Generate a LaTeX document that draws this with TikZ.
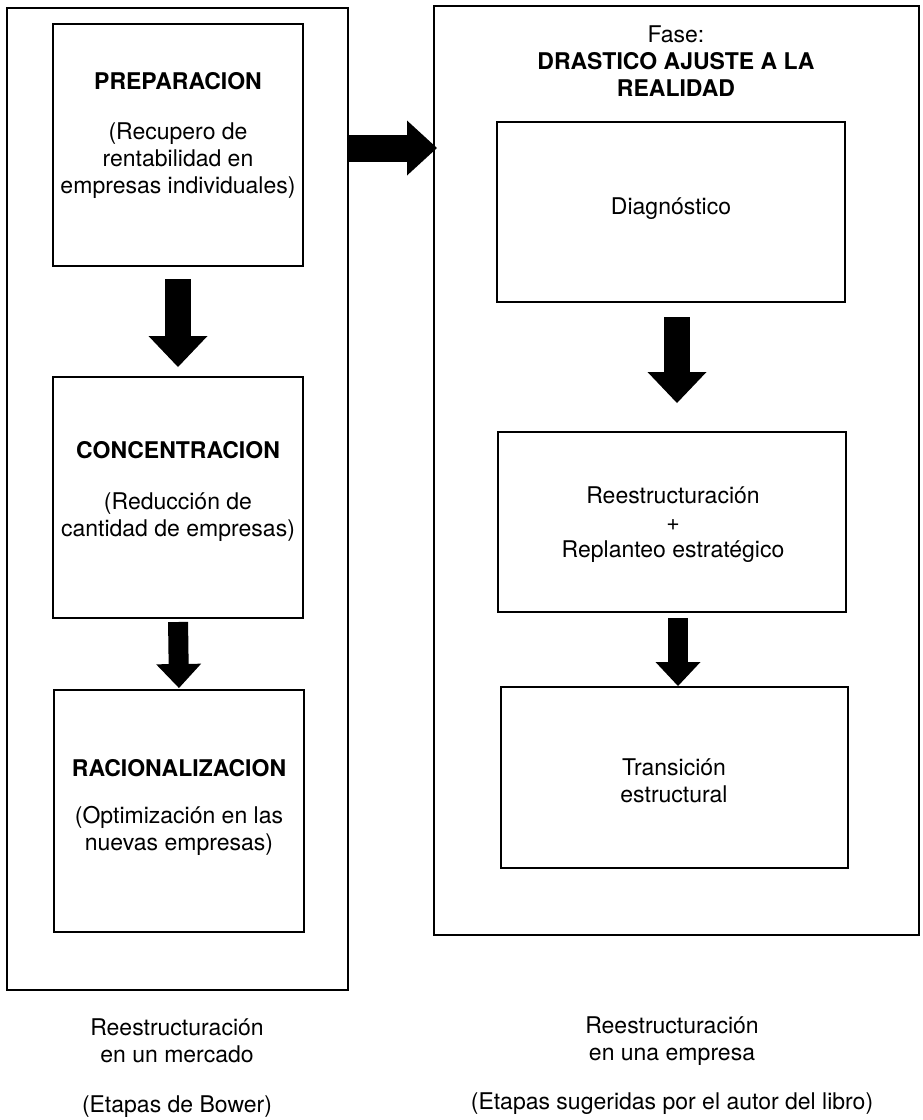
\documentclass[tikz,border=0pt]{standalone}
\usepackage{fontspec}
\setmainfont{TeX Gyre Heros}
\usetikzlibrary{arrows.meta}

\tikzset{
  frame/.style={draw, line width=1pt, inner sep=0pt, outer sep=0pt},
  stage/.style={frame, minimum width=125pt, minimum height=121pt},
  phase/.style={frame, minimum width=174pt, minimum height=90pt},
  txt/.style={align=center, inner sep=0pt, font=\fontsize{11.5}{13.5}\selectfont},
  bigarrow/.style={line width=13pt, -{Triangle[width=29.5pt, length=15.5pt, line width=0pt]}},
  smallarrow/.style={line width=10pt, -{Triangle[width=22.5pt, length=12pt, line width=0pt]}}
}

\begin{document}
\begin{tikzpicture}[x=0.5pt, y=-0.5pt]

\useasboundingbox (0,0) rectangle (922,1120);

% outer frames
\node[frame, minimum width=170.5pt, minimum height=491pt] (mercado) at (177.5,499) {};
\node[frame, minimum width=242.5pt, minimum height=464.5pt] (empresa) at (676.5,470.5) {};

% Bower stages
\node[stage] (prep) at (178,145) {};
\node[stage, minimum height=120.5pt] (conc) at (178,497.5) {};
\node[stage] (rac) at (179,811) {};

\node[txt] (preptit) at (178,81) {\textbf{PREPARACION}};
\node[txt] (prepsub) at (178,161) {(Recupero de\\rentabilidad en\\empresas individuales)};
\node[txt] (conctit) at (178,450) {\textbf{CONCENTRACION}};
\node[txt] (concsub) at (178,517) {(Reducción de\\cantidad de empresas)};
\node[txt] (ractit) at (179,768) {\textbf{RACIONALIZACION}};
\node[txt] (racsub) at (179,831) {(Optimización en las\\nuevas empresas)};

% stages in the company
\node[txt] (fase) at (676,61) {Fase:\\\textbf{DRASTICO AJUSTE A LA}\\\textbf{REALIDAD}};
\node[phase] (diag) at (671,212) {};
\node[phase] (reest) at (672,522) {};
\node[phase, minimum width=173.5pt, minimum height=90.5pt] (trans) at (674.5,777.5) {};

\node[txt] (diagt) at (671,209) {Diagnóstico};
\node[txt] (reestt) at (673,525) {Reestructuración\\+\\Replanteo estratégico};
\node[txt] (transt) at (674,781) {Transición\\estructural};

% captions
\node[txt] (mercadocap) at (177,1041) {Reestructuración\\en un mercado};
\node[txt] (mercadoref) at (177,1107) {(Etapas de Bower)};
\node[txt] (empresacap) at (672,1041) {Reestructuración\\en una empresa};
\node[txt] (empresaref) at (672,1104) {(Etapas sugeridas por el autor del libro)};

% arrows
\draw[bigarrow, shorten <=6.5pt, shorten >=5pt] (prep.south) -- (conc.north);
\draw[smallarrow, shorten <=2pt, shorten >=1pt] (conc.south) -- (rac.north);
\draw[bigarrow, shorten <=7.5pt, shorten >=14.5pt] ([xshift=3pt]diag.south) -- ([xshift=3pt]diag.south |- reest.north);
\draw[smallarrow, shorten <=3pt, shorten >=0.5pt] ([xshift=3pt]reest.south) -- ([xshift=3pt]reest.south |- trans.north);
\coordinate (link) at ([yshift=-70pt]mercado.north east);
\draw[line width=13.5pt, -{Triangle[width=27.5pt, length=15pt, line width=0pt]}, shorten >=-1.5pt] (link) -- (link -| empresa.west);

\end{tikzpicture}
\end{document}
